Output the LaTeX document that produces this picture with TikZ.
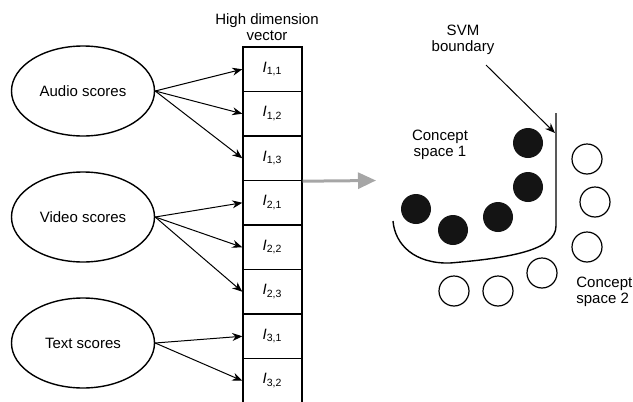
\documentclass[tikz,border=0pt]{standalone}
\usepackage{fontspec}
\setmainfont{Liberation Sans}
\usetikzlibrary{shapes.geometric,arrows.meta}

\begin{document}
\begin{tikzpicture}[x=0.5pt,y=-0.5pt,
  every node/.style={inner sep=0pt,font=\fontsize{7.5}{8}\selectfont},
  score/.style={draw,ellipse,line width=0.7pt,minimum width=71.5pt,minimum height=45pt},
  cell/.style={draw,rectangle,line width=0.7pt,minimum width=29.5pt,minimum height=22.25pt},
  feed/.style={-{Stealth[length=5pt,width=4pt]},line width=0.5pt},
  posdot/.style={circle,fill=black!92,minimum size=15pt},
  negdot/.style={circle,draw,line width=0.6pt,minimum size=15pt}]
\useasboundingbox (0,0) rectangle (633,402);
% score sources
\node[score] (aud) at (83,91) {Audio scores};
\node[score] (vid) at (83,217) {Video scores};
\node[score] (txt) at (83,343) {Text scores};
% the vector
\node[align=center] (hdv) at (267,27) {High dimension\\vector};
\foreach \i/\j [count=\k] in {1/1,1/2,1/3,2/1,2/2,2/3,3/1,3/2}
  \node[cell] (v\i\j) at (272.5,{47+44.5*(\k-0.5)}) {\textit{I}\textsubscript{\i,\j}};
\foreach \s/\t in {aud/v11,aud/v12,aud/v13,vid/v21,vid/v22,vid/v23,txt/v31,txt/v32}
  \draw[feed] (\s.east) -- (\t.west);
\coordinate (gtip) at (376,180.5);
\draw[black!35,line width=1.5pt,-{Triangle[length=9pt,width=8pt]}] (v13.south east) -- (gtip);
% concept space
\node[align=center] (svm) at (463,40) {SVM\\boundary};
\coordinate (svmfrom) at (486,65);
\coordinate (svmtip) at (555,133);
\draw[feed] (svmfrom) -- (svmtip);
\draw[line width=0.7pt] (556,113) -- (556,226) .. controls (556,250) and (510,258) .. (450,263)
  .. controls (415,264) and (395,245) .. (393,221);
\foreach \x/\y [count=\n] in {528/143,528/187,498/217,453/230,416/209}
  \node[posdot] (c\n) at (\x,\y) {};
\foreach \x/\y [count=\n] in {587/159,595/202,587/247,542/273,498/291,454/291}
  \node[negdot] (o\n) at (\x,\y) {};
\node[align=center] (cs1) at (440,145) {Concept\\space 1};
\node[align=left,anchor=west] (cs2) at (576,292) {Concept\\space 2};
\end{tikzpicture}
\end{document}
